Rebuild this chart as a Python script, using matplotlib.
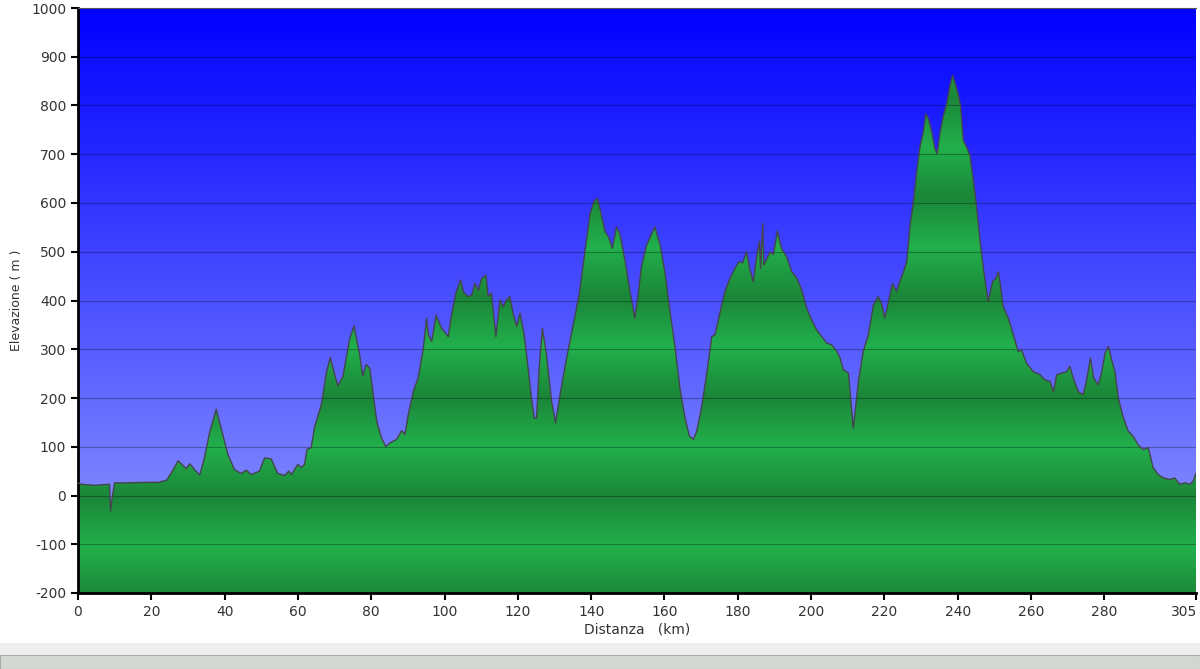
import matplotlib

matplotlib.use("Agg")
import matplotlib.pyplot as plt  # noqa: E402
import matplotlib.transforms as mtransforms  # noqa: E402
import numpy as np  # noqa: E402
from matplotlib.patches import Polygon, Rectangle  # noqa: E402

plt.rcParams["axes.unicode_minus"] = False

# profile (km, m)
dist_km = [
    0, 0.9, 4.5, 8.6, 8.9, 9.3, 10, 13.6, 18.2, 21.8, 24.1, 25.5, 27.3, 28.2,
    29.5, 30.5, 31.8, 33.2, 34.5, 35.9, 37.7, 39.1, 40.9, 42.7, 44.5, 45.9,
    47.3, 49.5, 50.9, 52.7, 54.5, 56.4, 57.5, 58.2, 60, 60.9, 61.8, 62.5, 63.6,
    64.5, 66.4, 67.7, 68.8, 70, 70.9, 72.3, 73.2, 74.1, 75.3, 76.8, 77.7, 78.6,
    79.6, 81.5, 82.8, 84.0, 85.1, 86.9, 88.3, 89.2, 90.1, 91.5, 92.8, 94.2,
    95.1, 95.6, 96.5, 97.7, 99.2, 101.0, 101.9, 103.1, 104.4, 105.1, 106.5,
    107.4, 108.3, 109.2, 110.1, 111.3, 111.9, 112.8, 114.0, 115.1, 116.0,
    116.9, 117.8, 118.8, 119.7, 120.6, 121.7, 122.8, 123.7, 124.5, 125.1,
    125.8, 126.7, 127.8, 129.2, 130.3, 131.5, 133.3, 135.1, 136.7, 138.3,
    139.7, 140.7, 141.7, 142.8, 143.8, 144.7, 145.8, 146.9, 147.8, 149.2,
    150.6, 151.9, 152.8, 153.7, 155.1, 156.5, 157.4, 158.8, 160.1, 161.5,
    162.9, 164.2, 165.6, 166.8, 167.9, 168.8, 170.1, 171.5, 172.9, 173.8,
    175.1, 176.5, 177.9, 179.2, 180.4, 181.3, 182.4, 183.3, 184.2, 185.1,
    185.9, 186.2, 186.8, 187.1, 188.0, 188.8, 189.7, 190.8, 191.9, 193.3,
    194.7, 196.1, 197.4, 198.8, 200.1, 201.5, 202.9, 204.2, 205.6, 207.0,
    207.9, 208.8, 210.2, 211.5, 212.9, 214.2, 215.6, 217.0, 218.3, 219.2,
    220.1, 221.1, 222.2, 223.3, 224.2, 225.2, 226.1, 227.0, 227.9, 228.8,
    229.7, 230.6, 231.3, 232.0, 232.9, 233.8, 234.4, 235.2, 236.1, 237.0,
    237.9, 238.6, 239.2, 240.2, 240.8, 241.5, 242.4, 243.3, 244.2, 245.1,
    246.1, 247.0, 248.3, 249.5, 250.4, 251.1, 251.5, 252.4, 253.8, 255.2,
    256.5, 257.4, 258.8, 260.6, 262.4, 263.8, 265.2, 266.1, 267.0, 268.3,
    269.7, 270.6, 271.5, 272.9, 274.2, 275.1, 276.2, 277.1, 278.3, 279.2,
    280.2, 281.1, 282.0, 282.9, 283.8, 285.1, 286.5, 287.9, 289.2, 290.6,
    292.0, 293.3, 294.7, 296.1, 297.9, 299.2, 300.6, 302.0, 303.3, 304.2,
    305.0,
]
elev_m = [
    26, 23, 21, 23, -32, -5, 26, 26, 27, 27, 31, 47, 71, 65,
    55, 65, 53, 42, 77, 129, 177, 136, 84, 53, 45, 52,
    43, 50, 77, 75, 45, 41, 50, 43, 64, 57, 64, 95, 98,
    139, 187, 249, 283, 249, 225, 245, 283, 321, 348, 290, 245, 269,
    261, 152, 118, 100, 108, 115, 133, 125, 166, 214, 241, 302,
    364, 330, 316, 370, 343, 326, 370, 415, 442, 418, 408,
    411, 435, 421, 445, 452, 408, 415, 326, 401, 387,
    401, 408, 370, 347, 374, 330, 261, 200, 159, 159,
    261, 343, 289, 193, 149, 207, 282, 350, 411, 500,
    578, 602, 610, 575, 541, 531, 507, 551, 537, 483,
    418, 364, 411, 469, 513, 537, 551, 514, 459, 378,
    303, 221, 159, 122, 115, 132, 180, 248, 326, 330,
    374, 419, 446, 466, 480, 477, 500, 463, 439, 487,
    521, 466, 558, 473, 487, 500, 494, 543, 507, 490,
    459, 446, 422, 384, 361, 340, 326, 313, 309, 296,
    282, 258, 251, 138, 234, 295, 329, 391, 408, 394,
    364, 398, 435, 418, 439, 459, 480, 555, 602, 664,
    715, 746, 783, 773, 746, 711, 701, 746, 780, 804,
    841, 862, 848, 821, 797, 729, 715, 698, 650, 596,
    520, 466, 398, 439, 445, 459, 439, 387, 364, 329,
    295, 299, 271, 254, 248, 237, 234, 213, 248, 251,
    254, 265, 241, 213, 207, 234, 282, 241, 227, 251,
    292, 306, 278, 254, 200, 162, 132, 121, 104, 94,
    98, 57, 43, 36, 33, 36, 23, 26, 23, 29,
    46,
]
x_ticks = [0, 20, 40, 60, 80, 100, 120, 140, 160, 180, 200, 220, 240, 260, 280, 305]
y_ticks = list(range(-200, 1001, 100))

X_MAX, Y_MIN, Y_MAX = 305, -200, 1000

fig = plt.figure(figsize=(12, 6.69), dpi=100)
ax = fig.add_axes([78 / 1200, 76 / 669, 1118 / 1200, 585 / 669])

# sky: deep blue at the top fading to lavender
t = np.linspace(0, 1, 400)[:, None]
top, bottom = np.array([0, 0, 255]) / 255, np.array([150, 160, 255]) / 255
sky = (top * (1 - t) + bottom * t)[:, None, :].repeat(2, axis=1)
ax.imshow(sky, extent=[0, X_MAX, Y_MIN, Y_MAX], aspect="auto", origin="upper", zorder=0)

# ground: banded green, light / dark repeating every ~205 m
v = np.linspace(Y_MIN, Y_MAX, 1200)
phase = ((v - 100) / 205) % 1.0
d = 1 - np.abs(2 * phase - 1)
light, dark = np.array([34, 176, 76]) / 255, np.array([27, 134, 56]) / 255
ground = (light * (1 - d[:, None]) + dark * d[:, None])[:, None, :].repeat(2, axis=1)
img = ax.imshow(ground, extent=[0, X_MAX, Y_MIN, Y_MAX], aspect="auto", origin="lower", zorder=1)
verts = np.column_stack([[dist_km[0]] + dist_km + [dist_km[-1]], [Y_MIN] + elev_m + [Y_MIN]])
clip = Polygon(verts, closed=True, transform=ax.transData, facecolor="none", edgecolor="none")
ax.add_patch(clip)
img.set_clip_path(clip)
ax.plot(dist_km, elev_m, color="#45454d", lw=1.0, zorder=3)

for yv in y_ticks:
    ax.axhline(yv, color="black", alpha=0.3, lw=0.8, zorder=2)

ax.set_xlim(0, X_MAX)
ax.set_ylim(Y_MIN, Y_MAX)
ax.set_xticks(x_ticks)
ax.set_yticks(y_ticks)
ax.tick_params(direction="out", length=5, width=1.5, colors="black", labelcolor="#333333", labelsize=10)
last = ax.get_xticklabels()[-1]
last.set_transform(last.get_transform() + mtransforms.ScaledTranslation(-12 / 100, 0, fig.dpi_scale_trans))
for side in ("left", "bottom"):
    ax.spines[side].set_linewidth(2)
ax.spines["right"].set_visible(False)
ax.spines["top"].set_linewidth(0.8)
ax.spines["top"].set_color("#555555")
ax.set_xlabel("Distanza   (km)", fontsize=10, color="#333333", labelpad=3)
ax.set_ylabel("Elevazione ( m )", fontsize=9, color="#333333", labelpad=6)

# bottom of the screenshot: window border and task strip
fig.patches.append(Rectangle((0, 14 / 669), 1, 12 / 669, transform=fig.transFigure,
                             facecolor="#efefef", edgecolor="none", zorder=-1))
fig.patches.append(Rectangle((0, 0), 1, 14 / 669, transform=fig.transFigure,
                             facecolor="#d4d8d2", edgecolor="#a8aca8", lw=0.8, zorder=-1))

fig.savefig("out.png", dpi=100)
